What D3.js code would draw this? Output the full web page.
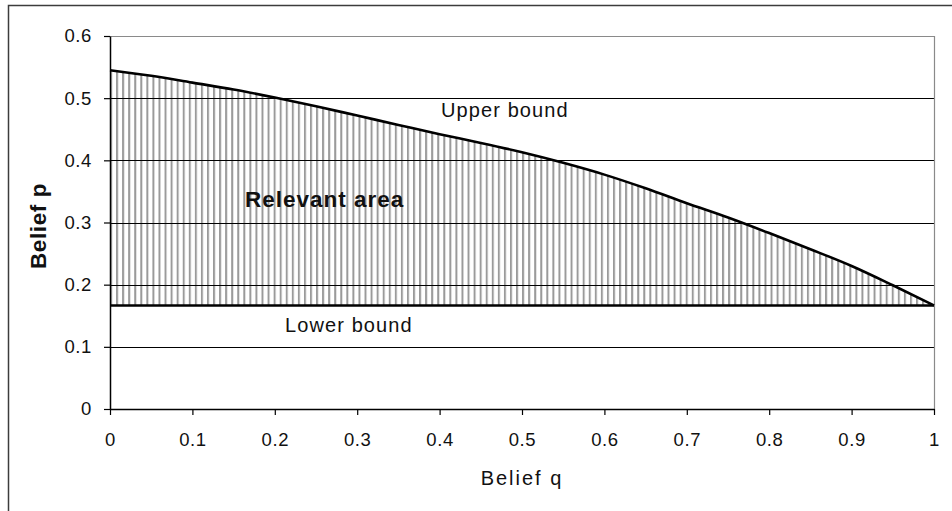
<!DOCTYPE html>
<html>
<head>
<meta charset="utf-8">
<script src="https://cdn.jsdelivr.net/npm/d3@7"></script>
<style>
  html, body { margin: 0; padding: 0; background: #fff; }
  svg { display: block; }
  text { font-family: "Liberation Sans", Arial, sans-serif; fill: #111; }
</style>
</head>
<body>
<svg id="chart" width="952" height="511"></svg>
<script>
// ---- data ----
const qValues = [0, 0.05, 0.1, 0.15, 0.2, 0.25, 0.3, 0.35, 0.4, 0.45, 0.5, 0.55, 0.6, 0.65, 0.7, 0.75, 0.8, 0.85, 0.9, 0.95, 1];
const upperBound = [0.545, 0.536, 0.525, 0.514, 0.501, 0.487, 0.472, 0.457, 0.442, 0.428, 0.413, 0.396, 0.377, 0.355, 0.331, 0.308, 0.283, 0.257, 0.230, 0.199, 0.1667];
const lowerBound = 1 / 6;
const xTicks = [0, 0.1, 0.2, 0.3, 0.4, 0.5, 0.6, 0.7, 0.8, 0.9, 1];
const yTicks = [0, 0.1, 0.2, 0.3, 0.4, 0.5, 0.6];
const yGrid = [0.1, 0.2, 0.3, 0.4, 0.5];
const labels = { x: "Belief q", y: "Belief p", upper: "Upper bound", lower: "Lower bound", area: "Relevant area" };

// ---- layout ----
const svg = d3.select("#chart");
const L = 110, R = 934, T = 36, B = 409;
const x = d3.scaleLinear().domain([0, 1]).range([L, R]);
const y = d3.scaleLinear().domain([0, 0.6]).range([B, T]);

// outer chart border
svg.append("rect").attr("x", 8.5).attr("y", 5.5).attr("width", 960).attr("height", 520)
  .attr("fill", "none").attr("stroke", "#3c3c3c").attr("stroke-width", 1.5);

// hatch pattern
const defs = svg.append("defs");
const pat = defs.append("pattern").attr("id", "hatch").attr("patternUnits", "userSpaceOnUse")
  .attr("x", L).attr("y", 0).attr("width", 6.06).attr("height", 10);
pat.append("rect").attr("width", 6.06).attr("height", 10).attr("fill", "#fff");
pat.append("line").attr("x1", 1).attr("x2", 1).attr("y1", 0).attr("y2", 10)
  .attr("stroke", "#9a9a9a").attr("stroke-width", 2);

const pts = qValues.map((q, i) => ({ q, p: upperBound[i] }));

// hatched area between upper curve and lower bound
const area = d3.area().x(d => x(d.q)).y0(y(lowerBound)).y1(d => y(d.p)).curve(d3.curveMonotoneX);
svg.append("path").datum(pts).attr("d", area).attr("fill", "url(#hatch)");

// gridlines
svg.selectAll(".grid").data(yGrid).join("line")
  .attr("x1", L).attr("x2", R).attr("y1", d => Math.round(y(d)) + 0.5).attr("y2", d => Math.round(y(d)) + 0.5)
  .attr("stroke", "#000").attr("stroke-width", 1);

// plot border (top & right)
svg.append("path").attr("d", `M${L},${T + 0.5}H${R + 0.5}V${B}`)
  .attr("fill", "none").attr("stroke", "#8a8a8a").attr("stroke-width", 1.2);

// lower bound line
svg.append("line").attr("x1", L).attr("x2", R).attr("y1", y(lowerBound)).attr("y2", y(lowerBound))
  .attr("stroke", "#000").attr("stroke-width", 2.5);

// upper bound curve
svg.append("path").datum(pts)
  .attr("d", d3.line().x(d => x(d.q)).y(d => y(d.p)).curve(d3.curveMonotoneX))
  .attr("fill", "none").attr("stroke", "#000").attr("stroke-width", 2.6);

// axes
const fmt = d => String(+(+d).toFixed(1));
const xAxis = d3.axisBottom(x).tickValues(xTicks).tickSize(6).tickSizeOuter(0).tickFormat(fmt);
const gx = svg.append("g").attr("transform", `translate(0,${B})`).call(xAxis);
gx.select(".domain").attr("stroke", "#000").attr("stroke-width", 1.5);
gx.selectAll(".tick line").attr("stroke", "#000").attr("stroke-width", 1.2);
gx.selectAll(".tick text").attr("font-size", 18.5).attr("y", 0).attr("dy", "36.5").attr("fill", "#222")
  .attr("letter-spacing", 0.6).attr("font-family", "Liberation Sans, Arial, sans-serif");

const yAxis = d3.axisLeft(y).tickValues(yTicks).tickSize(6).tickSizeOuter(0).tickFormat(fmt);
const gy = svg.append("g").attr("transform", `translate(${L},0)`).call(yAxis);
gy.select(".domain").attr("stroke", "#000").attr("stroke-width", 1.5);
gy.selectAll(".tick line").attr("stroke", "#000").attr("stroke-width", 1.2);
gy.selectAll(".tick text").attr("font-size", 18.5).attr("x", -18).attr("fill", "#222")
  .attr("letter-spacing", 0.6).attr("font-family", "Liberation Sans, Arial, sans-serif");

// annotations
svg.append("text").attr("x", 441).attr("y", 117).attr("font-size", 20).attr("letter-spacing", 1.1).text(labels.upper);
svg.append("text").attr("x", 285).attr("y", 332).attr("font-size", 20).attr("letter-spacing", 1.1).text(labels.lower);
svg.append("text").attr("x", 245).attr("y", 207).attr("font-size", 22.5).attr("font-weight", "bold").attr("letter-spacing", 1).text(labels.area);

// axis titles
svg.append("text").attr("x", 522).attr("y", 485).attr("text-anchor", "middle").attr("font-size", 20).attr("letter-spacing", 2).text(labels.x);
svg.append("text").attr("transform", "translate(46,226) rotate(-90)").attr("text-anchor", "middle")
  .attr("font-size", 22.5).attr("font-weight", "bold").attr("letter-spacing", 0.6).text(labels.y);
</script>
</body>
</html>
